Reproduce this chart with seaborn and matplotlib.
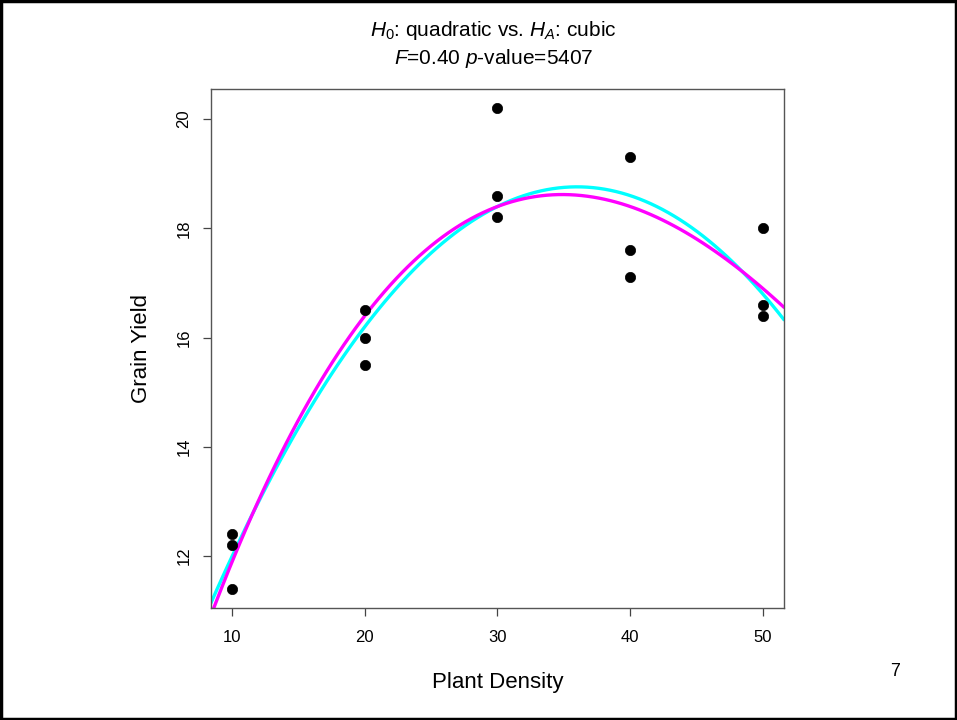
import numpy as np
import pandas as pd
import matplotlib
matplotlib.use("Agg")
import matplotlib.pyplot as plt
import seaborn as sns
from matplotlib.patches import Rectangle

# ---- data ----
density = [10, 10, 10, 20, 20, 20, 30, 30, 30, 40, 40, 40, 50, 50, 50]
grain_yield = [12.4, 12.2, 11.4, 16.5, 16.0, 15.5, 20.2, 18.6, 18.2,
               19.3, 17.6, 17.1, 18.0, 16.6, 16.4]
x_ticks = [10, 20, 30, 40, 50]
y_ticks = [12, 14, 16, 18, 20]
title_line1 = r"$H_0$: quadratic vs. $H_A$: cubic"
title_line2 = r"$F$=0.40 $p$-value=5407"
x_label = "Plant Density"
y_label = "Grain Yield"
page_number = "7"

df = pd.DataFrame({"density": density, "yield": grain_yield})

sns.set_style("white")
plt.rcParams["font.family"] = ["Liberation Sans", "DejaVu Sans"]
plt.rcParams["mathtext.fontset"] = "custom"
plt.rcParams["mathtext.rm"] = "Liberation Sans"
plt.rcParams["mathtext.it"] = "Liberation Sans:italic"
plt.rcParams["mathtext.default"] = "it"
plt.rcParams["text.color"] = "black"
plt.rcParams["axes.labelcolor"] = "black"
plt.rcParams["xtick.color"] = "black"
plt.rcParams["ytick.color"] = "black"

fig = plt.figure(figsize=(9.57, 7.2), dpi=100)
ax = fig.add_axes([0.2205, 0.1556, 0.8192 - 0.2205, 0.8764 - 0.1556])

xr = max(density) - min(density)
yr = max(grain_yield) - min(grain_yield)
xlim = (min(density) - 0.04 * xr, max(density) + 0.04 * xr)
ylim = (min(grain_yield) - 0.04 * yr, max(grain_yield) + 0.04 * yr)
ax.set_xlim(*xlim)
ax.set_ylim(*ylim)

# quadratic fit (cyan), then cubic fit (magenta) on top
sns.regplot(data=df, x="density", y="yield", order=2, ci=None, truncate=False,
            scatter=False, color="#00FFFF", line_kws={"lw": 2.4}, ax=ax)
sns.regplot(data=df, x="density", y="yield", order=3, ci=None, truncate=False,
            scatter=False, color="#FF00FF", line_kws={"lw": 2.4}, ax=ax)
sns.scatterplot(data=df, x="density", y="yield", color="black", s=55,
                edgecolor="black", linewidth=0.5, ax=ax, zorder=5)

ax.set_xlim(*xlim)
ax.set_ylim(*ylim)

ax.set_xticks(x_ticks)
ax.set_yticks(y_ticks)
ax.set_xticklabels([str(v) for v in x_ticks], fontsize=12)
ax.set_yticklabels([str(v) for v in y_ticks], fontsize=12, rotation=90, va="center")
ax.tick_params(axis="both", direction="out", length=6, width=0.9, color="#444444",
               labelcolor="black", bottom=True, left=True)
ax.tick_params(axis="x", pad=10)
ax.tick_params(axis="y", pad=8)

for sp in ax.spines.values():
    sp.set_color("#555555")
    sp.set_linewidth(1.0)

ax.set_xlabel(x_label, fontsize=16, labelpad=19, color="black")
ax.set_ylabel(y_label, fontsize=16, labelpad=18, color="black")

fig.text(0.516, 1 - 31 / 720, title_line1, fontsize=15, ha="center", va="center")
fig.text(0.516, 1 - 59 / 720, title_line2, fontsize=15, ha="center", va="center")
fig.text(895 / 957, 1 - 671 / 720, page_number, fontsize=13, ha="center", va="center")

fig.patches.append(Rectangle((0.0015, 0.002), 0.997, 0.996, transform=fig.transFigure,
                             fill=False, edgecolor="black", linewidth=2.5))

fig.savefig("out.png", dpi=100)
